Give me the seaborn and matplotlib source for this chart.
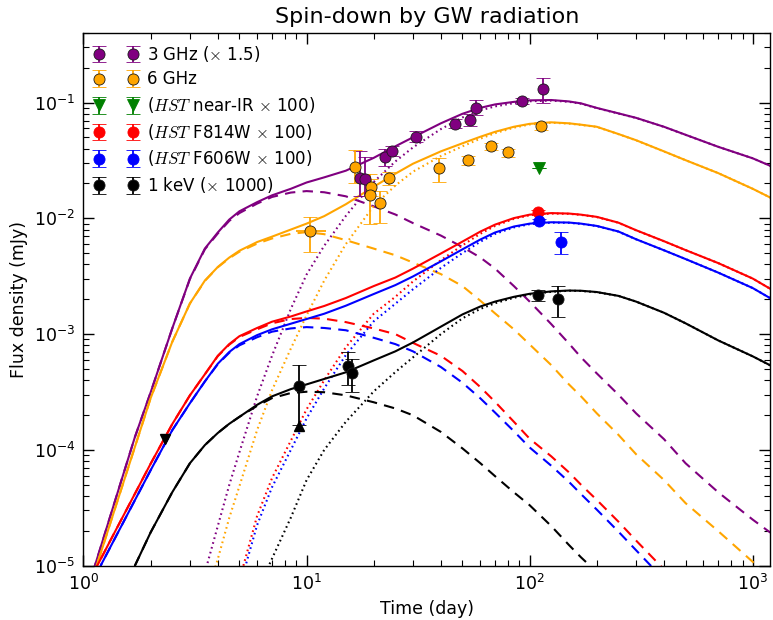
import numpy as np
import pandas as pd
import matplotlib
matplotlib.use("Agg")
import matplotlib.pyplot as plt
import seaborn as sns

# ---- model curves, time in days, flux in mJy ----
t_model = [1.1, 1.2, 1.4, 1.7, 2, 2.5, 3, 3.5, 4, 4.5, 5, 6, 7, 8.5, 10, 12, 15, 20, 25, 30,
           40, 50, 60, 70, 85, 100, 125, 150, 170, 200, 250, 300, 400, 500, 700, 1000, 1200]
nan = np.nan

purple_total = [8.7e-6, 1.49e-5, 3.88e-5, 1.29e-4, 3.14e-4, 1.12e-3, 3.02e-3, 5.48e-3, 7.55e-3, 9.75e-3,
                0.0115, 0.0138, 0.0158, 0.018, 0.0204, 0.0226, 0.0258, 0.0333, 0.0419, 0.0501,
                0.0662, 0.080, 0.090, 0.0964, 0.1014, 0.1045, 0.1052, 0.1023, 0.0984, 0.0899,
                0.0807, 0.0738, 0.0618, 0.0527, 0.0415, 0.033, 0.0284]
purple_dash = [8.7e-6, 1.49e-5, 3.88e-5, 1.29e-4, 3.14e-4, 1.12e-3, 2.99e-3, 5.4e-3, 7.4e-3, 9.5e-3,
               0.0111, 0.0134, 0.0153, 0.0167, 0.0172, 0.0168, 0.0155, 0.0127, 0.0108, 0.0091,
               0.0071, 0.00565, 0.0046, 0.00368, 0.0026, 0.00191, 0.00122, 8.3e-4, 6.3e-4, 4.58e-4,
               3.0e-4, 2.07e-4, 1.24e-4, 7.67e-5, 4.31e-5, 2.5e-5, 1.93e-5]
purple_dot = [nan, nan, nan, nan, nan, nan, nan, 8.7e-6, 2.2e-5, 4.96e-5,
              9.55e-5, 2.9e-4, 6.5e-4, 1.65e-3, 3.27e-3, 5.8e-3, 0.0105, 0.0206, 0.031, 0.041,
              0.059, 0.0744, 0.0855, 0.0927, 0.0988, 0.1026, 0.104, 0.1015, 0.0977, 0.0895,
              0.0804, 0.0736, 0.0617, 0.0526, 0.0415, 0.033, 0.0284]

orange_total = [7.9e-6, 1.32e-5, 3.33e-5, 1.06e-4, 2.8e-4, 8.57e-4, 1.84e-3, 2.9e-3, 3.8e-3, 4.58e-3,
                5.25e-3, 6.24e-3, 6.95e-3, 8.0e-3, 9.0e-3, 0.01045, 0.01324, 0.01875, 0.0243, 0.02965,
                0.0379, 0.0445, 0.0506, 0.0559, 0.0618, 0.0655, 0.0675, 0.0662, 0.0644, 0.0618,
                0.0535, 0.0473, 0.0379, 0.0318, 0.0246, 0.018, 0.0151]
orange_dash = [7.9e-6, 1.32e-5, 3.33e-5, 1.06e-4, 2.8e-4, 8.57e-4, 1.84e-3, 2.88e-3, 3.78e-3, 4.52e-3,
               5.15e-3, 6.05e-3, 6.7e-3, 7.35e-3, 7.6e-3, 7.3e-3, 6.48e-3, 5.48e-3, 4.8e-3, 4.15e-3,
               3.3e-3, 2.6e-3, 1.95e-3, 1.51e-3, 1.1e-3, 8.15e-4, 5.4e-4, 3.68e-4, 2.9e-4, 2.07e-4,
               1.35e-4, 9.18e-5, 5.5e-5, 3.47e-5, 1.99e-5, 1.08e-5, 8.2e-6]
orange_dot = [nan, nan, nan, nan, nan, nan, nan, 5.0e-6, 1.14e-5, 2.58e-5,
              4.86e-5, 1.48e-4, 3.27e-4, 7.5e-4, 1.45e-3, 2.9e-3, 6.0e-3, 0.0128, 0.0192, 0.0253,
              0.0345, 0.0419, 0.0487, 0.0544, 0.0607, 0.0647, 0.067, 0.0658, 0.0641, 0.0616,
              0.0534, 0.0472, 0.0378, 0.0318, 0.0246, 0.018, 0.0151]

red_total = [8.4e-6, 1.16e-5, 2.05e-5, 4.18e-5, 7.6e-5, 1.67e-4, 2.96e-4, 4.5e-4, 6.5e-4, 8.2e-4,
             9.6e-4, 1.13e-3, 1.28e-3, 1.42e-3, 1.57e-3, 1.75e-3, 2.05e-3, 2.6e-3, 3.08e-3, 3.68e-3,
             4.97e-3, 6.3e-3, 7.67e-3, 8.83e-3, 0.01005, 0.01076, 0.0111, 0.011, 0.01076, 0.0103,
             9.18e-3, 7.9e-3, 6.35e-3, 5.32e-3, 4.11e-3, 3.02e-3, 2.46e-3]
red_dash = [8.4e-6, 1.16e-5, 2.05e-5, 4.18e-5, 7.6e-5, 1.67e-4, 2.96e-4, 4.5e-4, 6.45e-4, 8.1e-4,
            9.45e-4, 1.1e-3, 1.24e-3, 1.35e-3, 1.38e-3, 1.36e-3, 1.27e-3, 1.12e-3, 1.0e-3, 8.4e-4,
            6.5e-4, 4.8e-4, 3.5e-4, 2.6e-4, 1.75e-4, 1.25e-4, 8.8e-5, 6.4e-5, 5.0e-5, 3.7e-5,
            2.4e-5, 1.65e-5, 9.3e-6, 5.5e-6, nan, nan, nan]
red_dot = [nan, nan, nan, nan, nan, nan, nan, nan, nan, nan,
           7.5e-6, 2.68e-5, 5.7e-5, 1.2e-4, 2.24e-4, 4.0e-4, 7.7e-4, 1.5e-3, 2.1e-3, 2.85e-3,
           4.35e-3, 5.85e-3, 7.35e-3, 8.6e-3, 9.9e-3, 0.01064, 0.011, 0.01094, 0.01071, 0.01026,
           9.16e-3, 7.88e-3, 6.34e-3, 5.32e-3, 4.11e-3, 3.02e-3, 2.46e-3]

blue_total = [6.2e-6, 1.02e-5, 1.8e-5, 3.68e-5, 6.68e-5, 1.48e-4, 2.53e-4, 3.9e-4, 5.55e-4, 7.0e-4,
              8.2e-4, 9.8e-4, 1.1e-3, 1.23e-3, 1.35e-3, 1.5e-3, 1.76e-3, 2.22e-3, 2.65e-3, 3.15e-3,
              4.25e-3, 5.4e-3, 6.55e-3, 7.55e-3, 8.5e-3, 9.0e-3, 9.25e-3, 9.2e-3, 9.0e-3, 8.6e-3,
              7.7e-3, 6.6e-3, 5.3e-3, 4.45e-3, 3.4e-3, 2.5e-3, 2.04e-3]
blue_dash = [6.2e-6, 1.02e-5, 1.8e-5, 3.68e-5, 6.68e-5, 1.48e-4, 2.53e-4, 3.9e-4, 5.5e-4, 6.9e-4,
             8.0e-4, 9.4e-4, 1.05e-3, 1.12e-3, 1.15e-3, 1.13e-3, 1.08e-3, 9.3e-4, 8.2e-4, 7.1e-4,
             5.2e-4, 3.8e-4, 2.8e-4, 2.1e-4, 1.45e-4, 1.05e-4, 7.3e-5, 5.3e-5, 4.15e-5, 3.05e-5,
             1.97e-5, 1.36e-5, 7.6e-6, 4.5e-6, nan, nan, nan]
blue_dot = [nan, nan, nan, nan, nan, nan, nan, nan, nan, nan,
            6.5e-6, 2.24e-5, 4.76e-5, 1.0e-4, 1.87e-4, 3.4e-4, 6.6e-4, 1.29e-3, 1.83e-3, 2.44e-3,
            3.73e-3, 5.02e-3, 6.27e-3, 7.34e-3, 8.35e-3, 8.9e-3, 9.18e-3, 9.15e-3, 8.96e-3, 8.57e-3,
            7.68e-3, 6.59e-3, 5.3e-3, 4.45e-3, 3.4e-3, 2.5e-3, 2.04e-3]

black_total = [nan, nan, nan, 1.0e-5, 1.94e-5, 4.31e-5, 7.67e-5, 1.1e-4, 1.4e-4, 1.68e-4,
               1.93e-4, 2.45e-4, 2.9e-4, 3.35e-4, 3.68e-4, 4.1e-4, 4.68e-4, 5.93e-4, 7.1e-4, 8.47e-4,
               1.16e-3, 1.48e-3, 1.73e-3, 1.91e-3, 2.1e-3, 2.23e-3, 2.34e-3, 2.38e-3, 2.37e-3, 2.31e-3,
               2.14e-3, 1.91e-3, 1.53e-3, 1.24e-3, 8.83e-4, 6.43e-4, 5.37e-4]
black_dash = [nan, nan, nan, 1.0e-5, 1.94e-5, 4.31e-5, 7.67e-5, 1.1e-4, 1.4e-4, 1.68e-4,
              1.93e-4, 2.4e-4, 2.8e-4, 3.1e-4, 3.18e-4, 3.15e-4, 2.96e-4, 2.58e-4, 2.28e-4, 1.99e-4,
              1.43e-4, 1.03e-4, 7.7e-5, 5.93e-5, 4.3e-5, 3.33e-5, 2.2e-5, 1.51e-5, 1.18e-5, 8.8e-6,
              nan, nan, nan, nan, nan, nan, nan]
black_dot = [nan, nan, nan, nan, nan, nan, nan, nan, nan, nan,
             nan, 6.0e-6, 1.15e-5, 2.6e-5, 5.48e-5, 1.0e-4, 1.75e-4, 3.2e-4, 4.7e-4, 6.3e-4,
             1.0e-3, 1.37e-3, 1.65e-3, 1.85e-3, 2.06e-3, 2.2e-3, 2.32e-3, 2.37e-3, 2.36e-3, 2.3e-3,
             2.14e-3, 1.91e-3, 1.53e-3, 1.24e-3, 8.83e-4, 6.43e-4, 5.37e-4]

# ---- observations ----
ghz3_t = [17.3, 18.3, 22.5, 24.2, 31.0, 46.3, 54.3, 57.5, 92.9, 115.3]
ghz3_f = [0.0225, 0.0218, 0.0336, 0.0384, 0.0506, 0.0659, 0.0705, 0.0906, 0.1035, 0.132]
ghz3_lo = [0.0068, 0.0061, 0.005, 0.004, 0.005, 0.006, 0.008, 0.012, 0.006, 0.032]
ghz3_hi = [0.0154, 0.012, 0.006, 0.004, 0.006, 0.006, 0.009, 0.014, 0.006, 0.030]

ghz6_t = [10.4, 16.5, 19.5, 19.3, 21.4, 23.4, 39.4, 53.2, 67.0, 80.1, 112.2]
ghz6_f = [0.00773, 0.0279, 0.01875, 0.0159, 0.0136, 0.0223, 0.027, 0.0318, 0.0421, 0.0371, 0.063]
ghz6_lo = [0.0026, 0.0078, 0.003, 0.0069, 0.0044, 0.003, 0.0066, 0.003, 0.003, 0.003, 0.005]
ghz6_hi = [0.0025, 0.011, 0.003, 0.0084, 0.0037, 0.003, 0.0062, 0.003, 0.003, 0.003, 0.005]
ghz6_first_tlo, ghz6_first_thi = 1.4, 1.85

nir_t = [110.3]
nir_f = [0.0272]

f814_t = [109.5]
f814_f = [0.0114]
f814_err = [0.0004]

f606_t = [110.3, 138.0]
f606_f = [0.00955, 0.00629]
f606_lo = [0.0003, 0.00136]
f606_hi = [0.0003, 0.00139]

kev_t = [9.21, 15.4, 16.0, 109.5, 134.5]
kev_f = [0.000354, 0.00053, 0.000465, 0.00216, 0.00202]
kev_lo = [0.000191, 0.000169, 0.000149, 0.00022, 0.00062]
kev_hi = [0.000183, 0.00017, 0.000149, 0.00025, 0.00061]

up_t, up_f = [9.21], [1.62e-4]
down_t, down_f = [2.32], [1.25e-4]

# ---- long table for seaborn ----
rows = []
curves = [("3 GHz", purple_total, purple_dash, purple_dot),
          ("6 GHz", orange_total, orange_dash, orange_dot),
          ("F814W", red_total, red_dash, red_dot),
          ("F606W", blue_total, blue_dash, blue_dot),
          ("1 keV", black_total, black_dash, black_dot)]
for band, tot, dsh, dt in curves:
    for comp, vals in (("dot", dt), ("dash", dsh), ("total", tot)):
        for t, v in zip(t_model, vals):
            rows.append((band, comp, t, v))
df = pd.DataFrame(rows, columns=["band", "comp", "t", "flux"]).dropna()

palette = {"3 GHz": "purple", "6 GHz": "orange", "F814W": "red",
           "F606W": "blue", "1 keV": "black"}

sns.set_theme(style="ticks")
plt.rcParams["font.family"] = ["DejaVu Sans"]
plt.rcParams["mathtext.fontset"] = "cm"
plt.rcParams["axes.linewidth"] = 1.0
plt.rcParams["axes.edgecolor"] = "black"
plt.rcParams["text.color"] = "black"
plt.rcParams["axes.labelcolor"] = "black"
plt.rcParams["xtick.color"] = "black"
plt.rcParams["ytick.color"] = "black"

fig = plt.figure(figsize=(7.73, 6.2), dpi=100)
ax = fig.add_axes([0.108, 0.0876, 0.8886, 0.8594])
ax.set_xscale("log")
ax.set_yscale("log")

sns.lineplot(data=df, x="t", y="flux", hue="band", style="comp",
             palette=palette,
             dashes={"total": "", "dash": (5, 3.5), "dot": (0.8, 1.6)},
             estimator=None, sort=True, lw=1.5, legend=False, ax=ax)

eb = dict(capsize=5, elinewidth=1.3, capthick=1.2, ms=8, mew=0.6, mec="k", ls="none")
h1 = ax.errorbar(ghz3_t, ghz3_f, yerr=[ghz3_lo, ghz3_hi], fmt="o", color="purple",
                 label=r"3 GHz ($\times$ 1.5)", zorder=5, **eb)
ax.errorbar(ghz6_t[:1], ghz6_f[:1], xerr=[[ghz6_first_tlo], [ghz6_first_thi]],
            fmt="none", ecolor="orange", elinewidth=1.3, capsize=0, zorder=4)
h2 = ax.errorbar(ghz6_t, ghz6_f, yerr=[ghz6_lo, ghz6_hi],
                 fmt="o", color="orange", label="6 GHz", zorder=5, **eb)
h3 = ax.errorbar(nir_t, nir_f, yerr=[[0], [0]], fmt="v", color="green",
                 label=r"($HST$ near-IR $\times$ 100)", zorder=5,
                 **{**eb, "mec": "green"})
h4 = ax.errorbar(f814_t, f814_f, yerr=[f814_err, f814_err], fmt="o", color="red",
                 label=r"($HST$ F814W $\times$ 100)", zorder=5, **{**eb, "mec": "red"})
h5 = ax.errorbar(f606_t, f606_f, yerr=[f606_lo, f606_hi], fmt="o", color="blue",
                 label=r"($HST$ F606W $\times$ 100)", zorder=5, **{**eb, "mec": "blue"})
h6 = ax.errorbar(kev_t, kev_f, yerr=[kev_lo, kev_hi], fmt="o", color="black",
                 label=r"1 keV ($\times$ 1000)", zorder=5, **eb)
ax.plot(up_t, up_f, "^", color="black", ms=7, zorder=6)
ax.plot(down_t, down_f, "v", color="black", ms=7, zorder=6)

ax.set_xlim(1, 1200)
ax.set_ylim(1e-5, 0.4)
ax.tick_params(which="both", direction="in", top=True, right=True,
               labelsize=12.5, colors="black")
ax.tick_params(which="major", length=8, width=1, pad=6)
ax.tick_params(which="minor", length=4, width=0.8)

ax.set_xlabel("Time (day)", fontsize=12.5)
ax.set_ylabel("Flux density (mJy)", fontsize=12.5)
ax.set_title("Spin-down by GW radiation", fontsize=16, pad=7)

ax.legend(handles=[h1, h2, h3, h4, h5, h6], loc="upper left", numpoints=2,
          frameon=False, fontsize=12, handlelength=2.6, borderaxespad=0.35,
          borderpad=0.3, labelspacing=0.4, handletextpad=0.55)

fig.savefig("out.png", dpi=100)
